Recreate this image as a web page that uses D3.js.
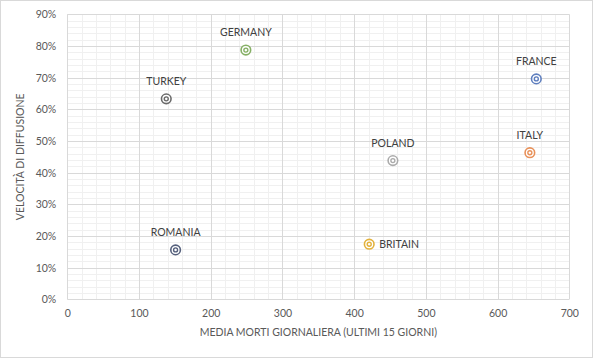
<!DOCTYPE html>
<html><head><meta charset="utf-8">
<script src="https://cdn.jsdelivr.net/npm/d3@7"></script>
<style>
html,body{margin:0;padding:0;background:#fff;}
svg text{font-family:Lato,"Open Sans",sans-serif;}
</style></head>
<body><svg id="c" width="593" height="358"></svg>
<script>
const countries = ["TURKEY","GERMANY","FRANCE","POLAND","ITALY","ROMANIA","BRITAIN"];
const deaths = [138, 249, 654, 454, 645, 151, 421];
const speed = [0.633, 0.787, 0.696, 0.438, 0.463, 0.156, 0.174];
const colors = ["#6b6b6b","#86b066","#5f7fbf","#ababab","#e8915a","#56617d","#e3b23c"];
const labelSide = ["top","top","top","top","top","top","right"];
const xTicks = [0,100,200,300,400,500,600,700];
const yTicks = [0,0.1,0.2,0.3,0.4,0.5,0.6,0.7,0.8,0.9];
const xTitle = "MEDIA MORTI GIORNALIERA (ULTIMI 15 GIORNI)";
const yTitle = "VELOCITÀ DI DIFFUSIONE";

const svg = d3.select("#c");
const W = 593, H = 358;
const m = {l:67.3, r:W-569.3, t:14.3, b:H-299.3};
svg.append("rect").attr("x",0.5).attr("y",0.5).attr("width",W-1).attr("height",H-1)
  .attr("fill","#fff").attr("stroke","#d9d9d9");

const x = d3.scaleLinear().domain([0,700]).range([m.l, W-m.r]);
const y = d3.scaleLinear().domain([0,0.9]).range([H-m.b, m.t]);

const g = svg.append("g");
// minor grid
const xMinor = d3.range(0,701,20).filter(v=>v%100!==0);
const yMinor = d3.range(0,91,2).filter(v=>v%10!==0).map(v=>v/100);
g.selectAll(".xm").data(xMinor).join("line")
  .attr("x1",d=>Math.round(x(d))+0.5).attr("x2",d=>Math.round(x(d))+0.5)
  .attr("y1",y(0.9)).attr("y2",y(0)).attr("stroke","#f0f0f0");
g.selectAll(".ym").data(yMinor).join("line")
  .attr("y1",d=>Math.round(y(d))+0.5).attr("y2",d=>Math.round(y(d))+0.5)
  .attr("x1",x(0)).attr("x2",x(700)).attr("stroke","#f0f0f0");
// major grid
g.selectAll(".xM").data(xTicks).join("line")
  .attr("x1",d=>Math.round(x(d))+0.5).attr("x2",d=>Math.round(x(d))+0.5)
  .attr("y1",y(0.9)).attr("y2",y(0)).attr("stroke","#d9d9d9");
g.selectAll(".yM").data(yTicks).join("line")
  .attr("y1",d=>Math.round(y(d))+0.5).attr("y2",d=>Math.round(y(d))+0.5)
  .attr("x1",x(0)).attr("x2",x(700)).attr("stroke","#d9d9d9");

// axes (labels only)
const xAxis = d3.axisBottom(x).tickValues(xTicks).tickSize(0).tickPadding(10).tickFormat(d3.format("d"));
const yAxis = d3.axisLeft(y).tickValues(yTicks).tickSize(0).tickPadding(11).tickFormat(d3.format(".0%"));
const gx = svg.append("g").attr("transform",`translate(0,${y(0)})`).call(xAxis);
const gy = svg.append("g").attr("transform",`translate(${x(0)},0)`).call(yAxis);
[gx,gy].forEach(a=>{a.select(".domain").remove();
  a.selectAll("text").attr("fill","#595959").style("font-size","10.5px").style("font-family","Lato,sans-serif");});

svg.append("text").attr("x",(x(0)+x(700))/2).attr("y",336).attr("text-anchor","middle")
  .attr("fill","#595959").style("font-size","10.5px").text(xTitle);
svg.append("text").attr("transform",`translate(24,${(y(0)+y(0.9))/2}) rotate(-90)`)
  .attr("text-anchor","middle").attr("fill","#595959").style("font-size","10.5px").text(yTitle);

// points
const data = countries.map((c,i)=>({c, x:deaths[i], y:speed[i], col:colors[i], side:labelSide[i]}));
const pts = svg.append("g").selectAll("g").data(data).join("g")
  .attr("transform",d=>`translate(${x(d.x)},${y(d.y)})`);
pts.append("circle").attr("r",4.8).attr("fill","#fff").attr("stroke",d=>d.col).attr("stroke-width",1.6);
pts.append("circle").attr("r",2).attr("fill","none").attr("stroke",d=>d.col).attr("stroke-width",1.4);
pts.append("text")
  .attr("x",d=>d.side==="right"?10:0)
  .attr("y",d=>d.side==="right"?4:-14)
  .attr("text-anchor",d=>d.side==="right"?"start":"middle")
  .attr("fill","#404040").style("font-size","10.5px").text(d=>d.c);
</script></body></html>
